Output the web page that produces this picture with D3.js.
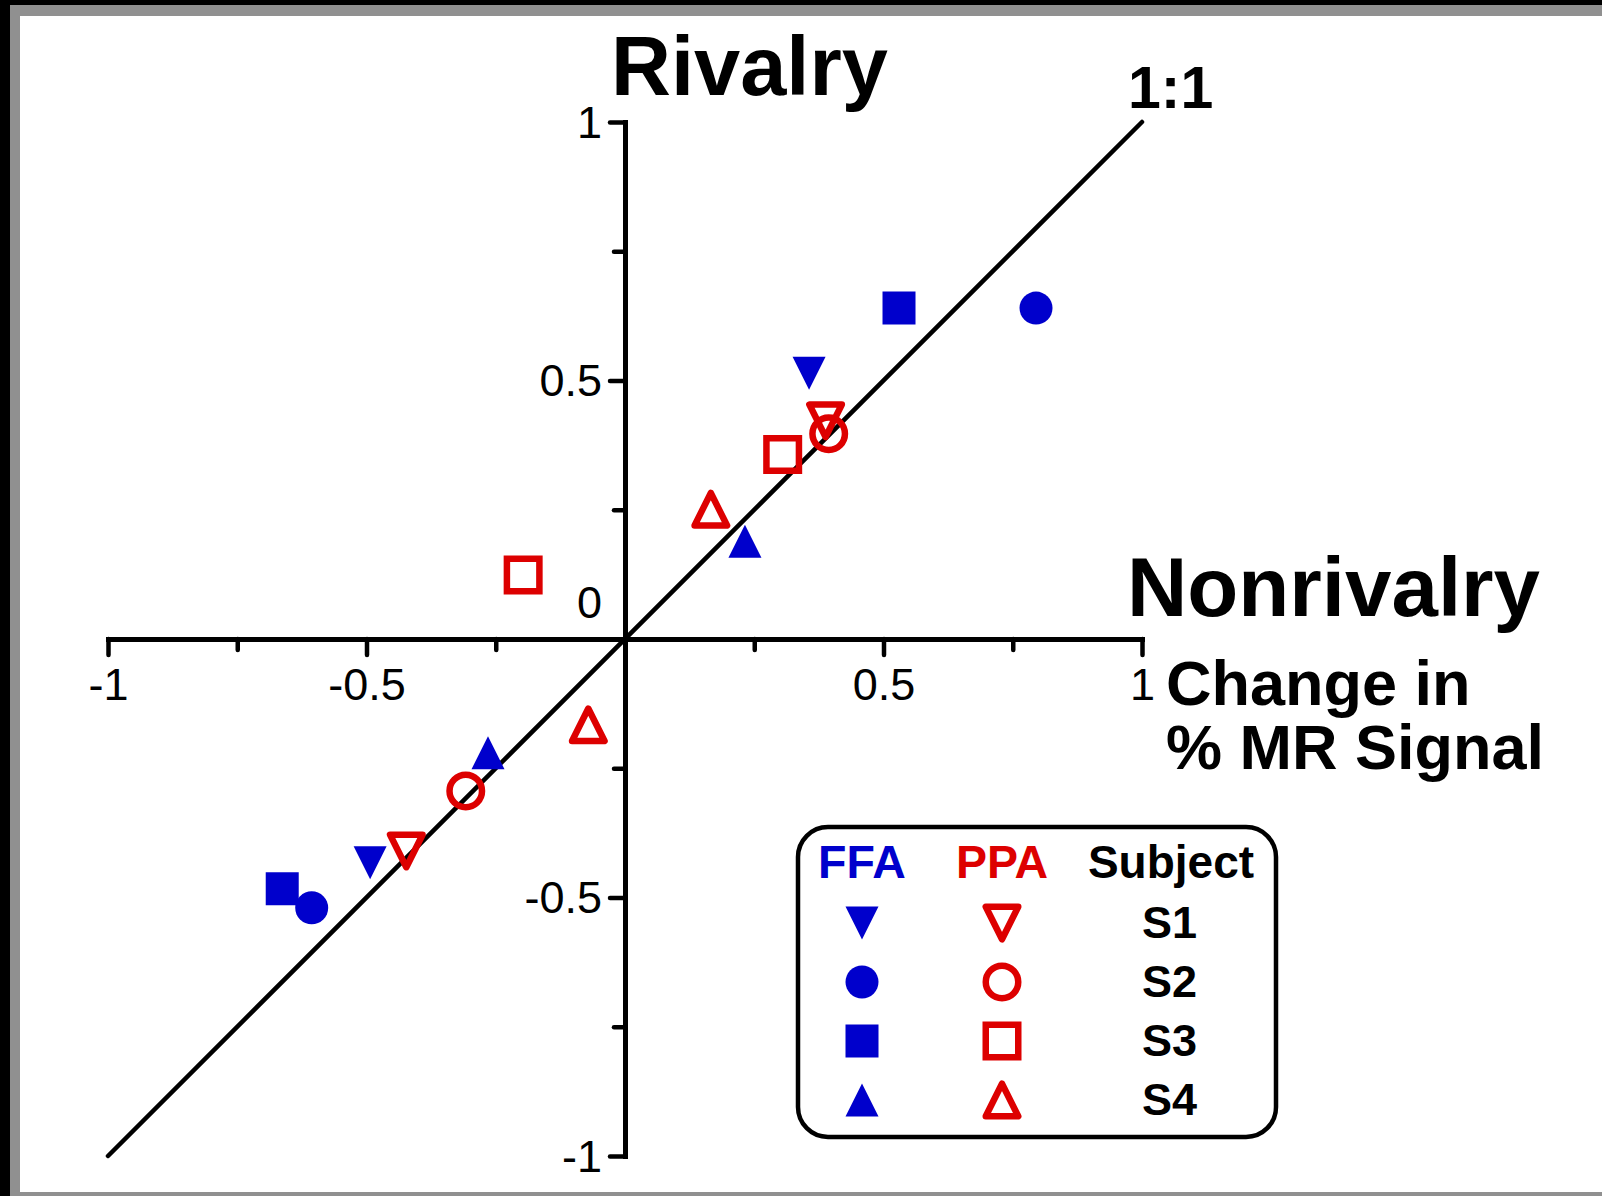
<!DOCTYPE html>
<html>
<head>
<meta charset="utf-8">
<script src="https://cdn.jsdelivr.net/npm/d3@7"></script>
<style>
  body { margin: 0; background: #fff; }
  svg { display: block; font-family: "Liberation Sans", Arial, sans-serif; }
</style>
</head>
<body>
<svg id="chart"></svg>
<script>
// Data (change in % MR signal), two points per subject
const subjects = ["S1", "S2", "S3", "S4"];
const pointSubject = ["S1", "S2", "S3", "S4", "S1", "S2", "S3", "S4"];
const ffaNonrivalry = [0.356, 0.795, 0.530, 0.232, -0.493, -0.606, -0.663, -0.265];
const ffaRivalry = [0.514, 0.640, 0.640, 0.189, -0.433, -0.520, -0.483, -0.220];
const ppaNonrivalry = [0.388, 0.394, 0.305, 0.166, -0.423, -0.308, -0.197, -0.071];
const ppaRivalry = [0.422, 0.397, 0.357, 0.251, -0.410, -0.294, 0.124, -0.166];

const xTicks = [-1, -0.75, -0.5, -0.25, 0.25, 0.5, 0.75, 1];
const yTicks = [1, 0.75, 0.5, 0.25, 0, -0.25, -0.5, -0.75, -1];
const xLabels = [-1, -0.5, 0.5, 1];
const yLabels = [1, 0.5, 0, -0.5, -1];

const W = 1602, H = 1196;
const blue = "#0000cc", red = "#dd0000";
const shapeOf = { S1: "down", S2: "circle", S3: "square", S4: "up" };

const svg = d3.select("#chart").attr("width", W).attr("height", H);

// frame
svg.append("rect").attr("width", W).attr("height", H).attr("fill", "#000");
svg.append("rect").attr("x", 10).attr("y", 5).attr("width", W - 10).attr("height", H - 5).attr("fill", "#909090");
svg.append("rect").attr("x", 20).attr("y", 16).attr("width", W - 20).attr("height", 1176).attr("fill", "#fff");

const x = d3.scaleLinear().domain([-1, 1]).range([108, 1142]);
const y = d3.scaleLinear().domain([-1, 1]).range([1156, 122]);

const isMajor = (v) => Math.abs(v * 2 - Math.round(v * 2)) < 1e-9;
const fmt = (v) => String(v); // plain hyphen minus, as in the figure

// x axis through y = 0
const xAxis = svg.append("g")
  .attr("transform", `translate(0,${y(0)})`)
  .call(d3.axisBottom(x).tickValues(xTicks).tickSizeOuter(0)
    .tickFormat((d) => (xLabels.includes(d) ? fmt(d) : "")));
xAxis.select(".domain").attr("stroke-width", 5).attr("stroke-linecap", "square");
xAxis.selectAll(".tick line")
  .attr("y2", (d) => (isMajor(d) ? 16 : 11))
  .attr("stroke-width", 4.5).attr("stroke-linecap", "round");
xAxis.selectAll(".tick text")
  .attr("y", 0).attr("dy", 61)
  .attr("font-size", 45).attr("font-family", "Liberation Sans, Arial, sans-serif");

// y axis through x = 0
const yAxis = svg.append("g")
  .attr("transform", `translate(${x(0)},0)`)
  .call(d3.axisLeft(y).tickValues(yTicks).tickSizeOuter(0)
    .tickFormat((d) => (yLabels.includes(d) ? fmt(d) : "")));
yAxis.select(".domain").attr("stroke-width", 5).attr("stroke-linecap", "square");
yAxis.selectAll(".tick line")
  .attr("x2", (d) => (d === 0 ? 0 : isMajor(d) ? -15 : -11))
  .attr("stroke-width", 4.5).attr("stroke-linecap", "round");
yAxis.selectAll(".tick text")
  .attr("x", -23)
  .attr("dy", (d) => (d === 0 ? -22 : 15))
  .attr("font-size", 45).attr("font-family", "Liberation Sans, Arial, sans-serif");

// 1:1 line
svg.append("line")
  .attr("x1", x(-1)).attr("y1", y(-1)).attr("x2", x(1)).attr("y2", y(1))
  .attr("stroke", "#000").attr("stroke-width", 4.5).attr("stroke-linecap", "round");

// marker shapes
function markerPath(shape, s) {
  const h = s / 2;
  if (shape === "down") return `M${-h},${-h}L${h},${-h}L0,${h}Z`;
  if (shape === "up") return `M0,${-h}L${h},${h}L${-h},${h}Z`;
  if (shape === "square") return `M${-h},${-h}H${h}V${h}H${-h}Z`;
  return d3.arc()({ innerRadius: 0, outerRadius: h, startAngle: 0, endAngle: 2 * Math.PI });
}

function drawMarker(g, shape, filled, color) {
  g.append("path")
    .attr("d", markerPath(shape, filled ? 33 : 32.5))
    .attr("fill", filled ? color : "none")
    .attr("stroke", filled ? "none" : color)
    .attr("stroke-width", 6.5)
    .attr("stroke-linejoin", shape === "square" ? "miter" : "round");
}

const pts = [];
ffaNonrivalry.forEach((v, i) => pts.push({ nx: v, ry: ffaRivalry[i], s: pointSubject[i], area: "FFA" }));
ppaNonrivalry.forEach((v, i) => pts.push({ nx: v, ry: ppaRivalry[i], s: pointSubject[i], area: "PPA" }));

svg.append("g").selectAll("g").data(pts).enter().append("g")
  .attr("transform", (d) => `translate(${x(d.nx)},${y(d.ry)})`)
  .each(function (d) {
    drawMarker(d3.select(this), shapeOf[d.s], d.area === "FFA", d.area === "FFA" ? blue : red);
  });

// titles
const bold = (t, px, py, size, color = "#000") =>
  svg.append("text").attr("x", px).attr("y", py).attr("font-size", size)
    .attr("font-weight", "bold").attr("fill", color).text(t);
bold("Rivalry", 611, 95, 83);
bold("1:1", 1128, 108, 59);
bold("Nonrivalry", 1127, 616, 83.5);
bold("Change in", 1166, 705, 63);
bold("% MR Signal", 1166, 769, 63);

// legend
const lg = svg.append("g");
lg.append("rect").attr("x", 798).attr("y", 827).attr("width", 478).attr("height", 310)
  .attr("rx", 30).attr("fill", "#fff").attr("stroke", "#000").attr("stroke-width", 4.5);
const colFFA = 862, colPPA = 1002;
lg.append("text").attr("x", colFFA).attr("y", 878).attr("text-anchor", "middle")
  .attr("font-size", 46.5).attr("font-weight", "bold").attr("fill", blue).text("FFA");
lg.append("text").attr("x", colPPA).attr("y", 878).attr("text-anchor", "middle")
  .attr("font-size", 46.5).attr("font-weight", "bold").attr("fill", red).text("PPA");
lg.append("text").attr("x", 1171).attr("y", 878).attr("text-anchor", "middle")
  .attr("font-size", 46).attr("font-weight", "bold").attr("fill", "#000").text("Subject");
subjects.forEach((s, i) => {
  const cy = 923 + i * 59;
  drawMarker(lg.append("g").attr("transform", `translate(${colFFA},${cy})`), shapeOf[s], true, blue);
  drawMarker(lg.append("g").attr("transform", `translate(${colPPA},${cy})`), shapeOf[s], false, red);
  lg.append("text").attr("x", 1142).attr("y", cy + 15)
    .attr("font-size", 45).attr("font-weight", "bold").text(s);
});
</script>
</body>
</html>
